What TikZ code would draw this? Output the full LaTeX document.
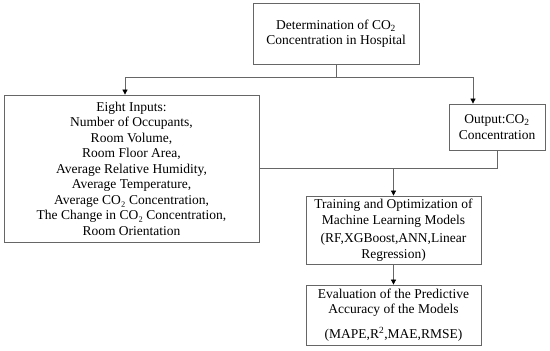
\documentclass[tikz,border=0pt]{standalone}
\usepackage{fontspec}
\setmainfont{Liberation Serif}
\usetikzlibrary{arrows.meta,calc}
\begin{document}
\begin{tikzpicture}[x=1pt,y=1pt,
  box/.style={draw=gray!80!black, line width=0.8pt, align=center, inner sep=0pt,
    font=\fontsize{13.5}{15.5}\selectfont},
  conn/.style={draw=gray!80!black, line width=0.8pt},
  arr/.style={conn, -{Triangle[length=5pt,width=5pt,fill=black,color=black]}}]
\useasboundingbox (0,0) rectangle (550,351);
\node[box, minimum width=166, minimum height=61] (top) at (336,317.5)
  {Determination of CO\textsubscript{2}\\Concentration in Hospital};
\node[box, minimum width=255, minimum height=147] (left) at (131.5,182.5)
  {Eight Inputs:\\Number of Occupants,\\Room Volume,\\Room Floor Area,\\Average Relative Humidity,\\Average Temperature,\\Average CO₂ Concentration,\\The Change in CO₂ Concentration,\\Room Orientation};
\node[box, minimum width=96, minimum height=46] (out) at (497,224)
  {Output:CO\textsubscript{2}\\Concentration};
\node[box, minimum width=175, minimum height=68] (train) at (393.5,121)
  {Training and Optimization of\\Machine Learning Models\\[3pt](RF,XGBoost,ANN,Linear\\Regression)};
\node[box, minimum width=175, minimum height=60] (eval) at (393.5,36)
  {Evaluation of the Predictive\\Accuracy of the Models\\[9pt](MAPE,R\textsuperscript{2},MAE,RMSE)};
\coordinate (jt) at (336,274);
\coordinate (jl) at (125,274);
\coordinate (jr) at (473,274);
\draw[conn] (top.south) -- (jt);
\draw[arr] (jt) -- (jl) -- (jl |- left.north);
\draw[arr] (jt) -- (jr) -- (jr |- out.north);
\coordinate (jb) at (train.north |- left.east);
\draw[conn] (left.east) -- (out.south |- left.east) -- (out.south);
\draw[arr] (jb) -- (train.north);
\draw[arr] (train.south) -- (eval.north);
\end{tikzpicture}
\end{document}
